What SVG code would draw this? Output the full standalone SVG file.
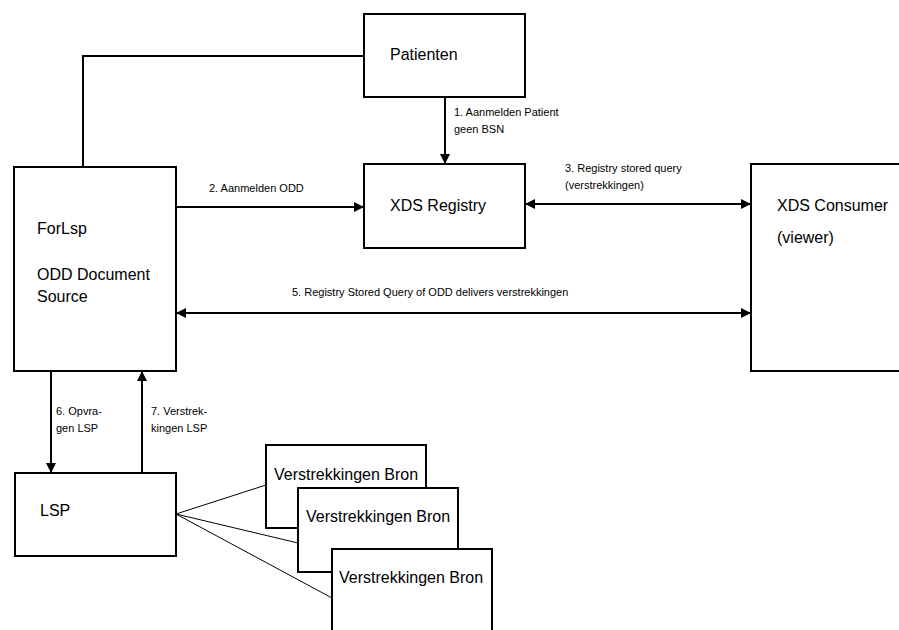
<svg xmlns="http://www.w3.org/2000/svg" width="899" height="630" viewBox="0 0 899 630">
<style>
.box{fill:#fff;stroke:#000;stroke-width:2}
.t{font-family:"Liberation Sans",Arial,sans-serif;font-size:16px;fill:#000}
.s{font-family:"Liberation Sans",Arial,sans-serif;font-size:11px;fill:#000}
.c{stroke:#000;stroke-width:2;fill:none}
.thin{stroke:#000;stroke-width:1;fill:none}
</style>
<defs>
<marker id="ah" viewBox="0 0 10 10" refX="10" refY="5" markerWidth="5" markerHeight="5" orient="auto-start-reverse" markerUnits="strokeWidth">
<path d="M0,0 L10,5 L0,10 z" fill="#000"/>
</marker>
</defs>
<g id="connectors">
<polyline class="c" points="83,167 83,56 364,56"/>
<line class="c" x1="445" y1="97" x2="445" y2="164" marker-end="url(#ah)"/>
<line class="c" x1="176" y1="207" x2="364" y2="207" marker-end="url(#ah)"/>
<line class="c" x1="525" y1="204" x2="751" y2="204" marker-start="url(#ah)" marker-end="url(#ah)"/>
<line class="c" x1="176" y1="313" x2="751" y2="313" marker-start="url(#ah)" marker-end="url(#ah)"/>
<line class="c" x1="51" y1="371" x2="51" y2="473" marker-end="url(#ah)"/>
<line class="c" x1="142" y1="473" x2="142" y2="371" marker-end="url(#ah)"/>
<line class="thin" x1="176" y1="514" x2="266" y2="485"/>
<line class="thin" x1="176" y1="514" x2="298" y2="543"/>
<line class="thin" x1="176" y1="514" x2="332" y2="598"/>
<text class="s" x="454" y="116">1. Aanmelden Patient</text>
<text class="s" x="454" y="133">geen BSN</text>
<text class="s" x="209" y="192">2. Aanmelden ODD</text>
<text class="s" x="565" y="172">3. Registry stored query</text>
<text class="s" x="565" y="189">(verstrekkingen)</text>
<text class="s" x="292" y="296">5. Registry Stored Query of ODD delivers verstrekkingen</text>
<text class="s" x="56" y="415">6. Opvra-</text>
<text class="s" x="56" y="432">gen LSP</text>
<text class="s" x="151" y="415">7. Verstrek-</text>
<text class="s" x="151" y="432">kingen LSP</text>
</g>
<g id="patienten">
<rect class="box" x="364" y="14" width="161" height="83"/>
<text class="t" x="390" y="60">Patienten</text>
</g>
<g id="xds-registry">
<rect class="box" x="364" y="164" width="161" height="84"/>
<text class="t" x="390" y="211">XDS Registry</text>
</g>
<g id="forlsp">
<rect class="box" x="14" y="167" width="162" height="204"/>
<text class="t" x="37" y="234">ForLsp</text>
<text class="t" x="37" y="280">ODD Document</text>
<text class="t" x="37" y="302">Source</text>
</g>
<g id="xds-consumer">
<rect class="box" x="751" y="164" width="160" height="207"/>
<text class="t" x="777" y="211">XDS Consumer</text>
<text class="t" x="777" y="243">(viewer)</text>
</g>
<g id="lsp">
<rect class="box" x="15" y="473" width="161" height="83"/>
<text class="t" x="40" y="516">LSP</text>
</g>
<g id="bron1">
<rect class="box" x="266" y="445" width="160" height="83"/>
<text class="t" x="274" y="480">Verstrekkingen Bron</text>
</g>
<g id="bron2">
<rect class="box" x="298" y="488" width="160" height="84"/>
<text class="t" x="306" y="522">Verstrekkingen Bron</text>
</g>
<g id="bron3">
<rect class="box" x="332" y="549" width="160" height="95"/>
<text class="t" x="339" y="583">Verstrekkingen Bron</text>
</g>
</svg>
